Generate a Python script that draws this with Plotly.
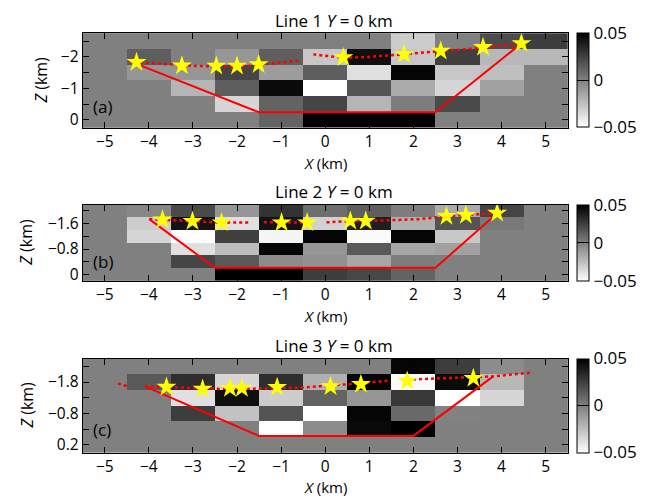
import plotly.graph_objects as go

W, H = 658, 498
FONT = "Open Sans"

# ---------------- data ----------------
cols = [-5, -4, -3, -2, -1, 0, 1, 2, 3, 4, 5]

rows_a = [-2.5, -2.0, -1.5, -1.0, -0.5, 0.0]
vals_a = [
    [0, 0, 0, 0, 0, 0, 0, -0.030, 0, 0.020, 0.026],
    [0, 0.013, 0, -0.009, 0.013, -0.028, 0.044, -0.028, 0.025, -0.022, -0.022],
    [0, -0.009, -0.009, 0.023, -0.011, 0.013, -0.038, 0.048, -0.028, -0.025, 0],
    [0, 0, -0.021, 0.013, 0.046, -0.050, 0.017, -0.017, -0.034, -0.013, 0],
    [0, 0, 0, -0.034, 0.011, 0.023, -0.021, 0.001, 0.021, 0, 0],
    [0, 0, 0, 0, 0.011, 0.050, 0.050, 0.050, 0, 0, 0],
]

rows_b = [-2.0, -1.6, -1.2, -0.8, -0.4, 0.0]
vals_b = [
    [0, -0.003, 0.021, -0.009, 0.030, 0.007, 0.013, 0.001, -0.017, 0.023, 0],
    [0, -0.030, 0.042, -0.038, 0.042, -0.032, 0.038, -0.019, 0.017, 0.003, 0],
    [0, -0.034, -0.050, 0.025, -0.046, 0.048, -0.048, 0.048, -0.028, 0, 0],
    [0, 0, -0.038, -0.024, 0.048, -0.009, 0.015, -0.015, -0.013, 0, 0],
    [0, 0, 0.023, 0.015, -0.005, -0.007, -0.015, 0.001, 0, 0, 0],
    [0, 0, 0, 0.050, 0.050, 0.026, 0.022, 0.011, 0, 0, 0],
]

rows_c = [-2.3, -1.8, -1.3, -0.8, -0.3, 0.2]
vals_c = [
    [0, 0, 0, 0, 0, 0, 0, 0.048, 0.026, -0.005, 0],
    [0, 0.015, 0.032, -0.034, 0.032, -0.019, 0.048, -0.048, 0.046, -0.022, 0],
    [0, 0, -0.038, 0.044, -0.030, 0.011, -0.009, 0.028, -0.050, -0.034, 0],
    [0, 0, 0.026, -0.026, 0.017, -0.050, 0.048, 0.009, -0.001, 0, 0],
    [0, 0, 0, 0, -0.050, -0.005, 0.046, 0.050, 0, 0, 0],
    [0, 0, 0, 0, 0, 0, 0, 0, 0, 0, 0],
]

# trapezoid outlines (red solid)
trap_a_x = [-4.28, -1.5, 2.5, 4.45]
trap_a_z = [-1.78, -0.24, -0.24, -2.43]
trap_b_x = [-3.99, -2.5, 2.5, 3.89]
trap_b_z = [-1.74, -0.21, -0.21, -1.91]
trap_c_x = [-4.09, -1.5, 2.0, 3.81]
trap_c_z = [-1.66, -0.08, -0.08, -1.98]

# red dotted profile lines
dots_a_x = [-4.47, -4.28, -3.6, -2.92, -2.47, -2.0, -1.49, -1.0, -0.54, None, -0.27, 0.41, 1.0, 1.47, 1.8, 2.6, 3.58, 4.45]
dots_a_z = [-1.88, -1.83, -1.77, -1.71, -1.70, -1.68, -1.75, -1.82, -1.89, None, -2.08, -1.97, -2.0, -2.05, -2.10, -2.18, -2.29, -2.43]
dots_b_x = [-3.99, -3.69, -3.01, -2.35, -1.71, None, -1.39, -0.99, -0.46, None, 0.03, 0.57, 0.92, 1.5, 2.15, 2.75, 3.19, 3.9]
dots_b_z = [-1.74, -1.72, -1.67, -1.63, -1.63, None, -1.64, -1.63, -1.63, None, -1.64, -1.68, -1.68, -1.71, -1.74, -1.83, -1.86, -1.93]
dots_c_x = [-4.70, -4.5, None, -4.09, -3.6, -3.0, -2.4, -1.48, -0.55, 0.43, 1.43, None, 1.72, 2.15, 3.36, 3.81, 4.68]
dots_c_z = [-1.75, -1.67, None, -1.66, -1.64, -1.61, -1.58, -1.59, -1.62, -1.72, -1.84, None, -1.87, -1.89, -1.95, -1.98, -2.10]

# stars (yellow)
stars_a_x = [-4.28, -3.25, -2.47, -2.0, -1.51, 0.41, 1.79, 2.62, 3.58, 4.45]
stars_a_z = [-1.83, -1.72, -1.71, -1.71, -1.76, -1.98, -2.08, -2.19, -2.31, -2.43]
stars_b_x = [-3.69, -3.01, -2.35, -0.99, -0.41, 0.57, 0.92, 2.75, 3.19, 3.90]
stars_b_z = [-1.72, -1.67, -1.63, -1.63, -1.63, -1.68, -1.68, -1.83, -1.86, -1.93]
stars_c_x = [-3.6, -2.78, -2.16, -1.89, -1.09, 0.12, 0.81, 1.86, 3.36]
stars_c_z = [-1.64, -1.58, -1.60, -1.60, -1.63, -1.66, -1.73, -1.83, -1.92]

titles = ["Line 1 <i>Y</i> = 0 km", "Line 2 <i>Y</i> = 0 km", "Line 3 <i>Y</i> = 0 km"]
panel_labels = ["(a)", "(b)", "(c)"]
xticks = [-5, -4, -3, -2, -1, 0, 1, 2, 3, 4, 5]
yticks_a = [-2, -1, 0]
yticks_b = [-1.6, -0.8, 0]
yticks_c = [-1.8, -0.8, 0.2]
ytext_a = ["\u22122", "\u22121", "0"]
ytext_b = ["\u22121.6", "\u22120.8", "0"]
ytext_c = ["\u22121.8", "\u22120.8", "0.2"]
cbar_vals = [-0.05, 0, 0.05]
cbar_text = ["\u22120.05", "0", "0.05"]

# ---------------- layout geometry (pixels) ----------------
XL, XR = 82.7, 567.7
panels = [
    dict(top=33.3, bot=127.7, rng=[0.25, -2.75], minor=dict(tick0=0, dtick=0.5),
         rows=rows_a, vals=vals_a, tx=trap_a_x, tz=trap_a_z, dx=dots_a_x, dz=dots_a_z,
         sx=stars_a_x, sz=stars_a_z, yt=yticks_a, ytt=ytext_a, ytitle_x=40, lab_z=-0.43),
    dict(top=204.5, bot=280.8, rng=[0.2, -2.2], minor=dict(tick0=0, dtick=0.4),
         rows=rows_b, vals=vals_b, tx=trap_b_x, tz=trap_b_z, dx=dots_b_x, dz=dots_b_z,
         sx=stars_b_x, sz=stars_b_z, yt=yticks_b, ytt=ytext_b, ytitle_x=26, lab_z=-0.40),
    dict(top=358.5, bot=452.5, rng=[0.45, -2.55], minor=dict(tick0=0.2, dtick=0.5),
         rows=rows_c, vals=vals_c, tx=trap_c_x, tz=trap_c_z, dx=dots_c_x, dz=dots_c_z,
         sx=stars_c_x, sz=stars_c_z, yt=yticks_c, ytt=ytext_c, ytitle_x=26, lab_z=-0.30),
]

def px(x):
    return x / W

def py(y):
    return 1 - y / H

grey_scale = [[0, "rgb(255,255,255)"], [1, "rgb(0,0,0)"]]

fig = go.Figure()
annotations = []

for i, p in enumerate(panels):
    n = "" if i == 0 else str(i + 1)
    xa = "x" + n
    ya = "y" + n
    fig.add_trace(go.Heatmap(
        x=cols, y=p["rows"], z=p["vals"], zmin=-0.05, zmax=0.05,
        colorscale=grey_scale, xaxis=xa, yaxis=ya,
        colorbar=dict(
            x=px(577.3), xanchor="left", xpad=0, ypad=0,
            y=py((p["top"] + p["bot"]) / 2), yanchor="middle",
            len=(p["bot"] - p["top"]) / H, lenmode="fraction",
            thickness=12, thicknessmode="pixels",
            outlinecolor="black", outlinewidth=1,
            tickvals=cbar_vals, ticktext=cbar_text,
            ticks="inside", ticklen=12, tickcolor="black", tickwidth=1,
            tickfont=dict(family=FONT, size=17, color="black"),
        ),
        hoverinfo="skip",
    ))
    fig.add_trace(go.Scatter(
        x=p["tx"], y=p["tz"], mode="lines", xaxis=xa, yaxis=ya,
        line=dict(color="rgb(255,0,0)", width=2), showlegend=False, hoverinfo="skip"))
    fig.add_trace(go.Scatter(
        x=p["dx"], y=p["dz"], mode="lines", xaxis=xa, yaxis=ya,
        line=dict(color="rgb(255,0,0)", width=2.5, dash="dot"), showlegend=False,
        connectgaps=False, hoverinfo="skip"))
    fig.add_trace(go.Scatter(
        x=p["sx"], y=p["sz"], mode="markers", xaxis=xa, yaxis=ya,
        marker=dict(symbol="star", size=15, color="rgb(255,255,0)", line=dict(width=0)),
        showlegend=False, hoverinfo="skip"))

    axis_common = dict(
        showline=True, linecolor="black", linewidth=1, mirror="allticks",
        ticks="inside", ticklen=6, tickcolor="black", tickwidth=1,
        showgrid=False, zeroline=False, automargin=False,
        tickfont=dict(family=FONT, size=15.5, color="black"),
    )
    fig.update_layout(**{
        "xaxis" + n: dict(
            domain=[px(XL), px(XR)], range=[-5.5, 5.5], anchor=ya,
            tickvals=xticks, ticktext=[("\u2212" + str(-v)) if v < 0 else str(v) for v in xticks],
            **axis_common),
        "yaxis" + n: dict(
            domain=[py(p["bot"]), py(p["top"])], range=p["rng"], anchor=xa,
            tickvals=p["yt"], ticktext=p["ytt"],
            minor=dict(ticks="inside", ticklen=6, tickcolor="black", tick0=p["minor"]["tick0"],
                       dtick=p["minor"]["dtick"], showgrid=False),
            **axis_common),
    })

    # title
    annotations.append(dict(
        text=titles[i], x=px(334), y=py(p["top"] - 13), xref="paper", yref="paper",
        xanchor="center", yanchor="middle", showarrow=False,
        font=dict(family=FONT, size=17, color="black")))
    # x axis title
    if i < 2:
        xt_y, xt_anchor = py(p["bot"] + 35), "middle"
    else:
        xt_y, xt_anchor = 0.0, "bottom"
    annotations.append(dict(
        text="<i>X</i> (km)", x=px(325.5), y=xt_y, xref="paper", yref="paper",
        xanchor="center", yanchor=xt_anchor, showarrow=False, borderpad=0,
        font=dict(family=FONT, size=15, color="black")))
    # y axis title
    annotations.append(dict(
        text="<i>Z</i> (km)", x=px(p["ytitle_x"]), y=py((p["top"] + p["bot"]) / 2),
        xref="paper", yref="paper", xanchor="center", yanchor="middle",
        textangle=-90, showarrow=False,
        font=dict(family=FONT, size=16, color="black")))
    # panel label
    annotations.append(dict(
        text=panel_labels[i], x=-5.32, y=p["lab_z"], xref=xa, yref=ya,
        xanchor="left", yanchor="middle", showarrow=False,
        font=dict(family=FONT, size=17, color="black")))

fig.update_layout(
    width=W, height=H,
    margin=dict(l=0, r=0, t=0, b=0, autoexpand=False),
    paper_bgcolor="white", plot_bgcolor="rgb(128,128,128)",
    showlegend=False,
    annotations=annotations,
    font=dict(family=FONT, color="black"),
)

fig.write_html(
    "out.html",
    config={"displayModeBar": False},
    post_script="document.body.style.margin='0';document.body.style.overflow='hidden';",
)
